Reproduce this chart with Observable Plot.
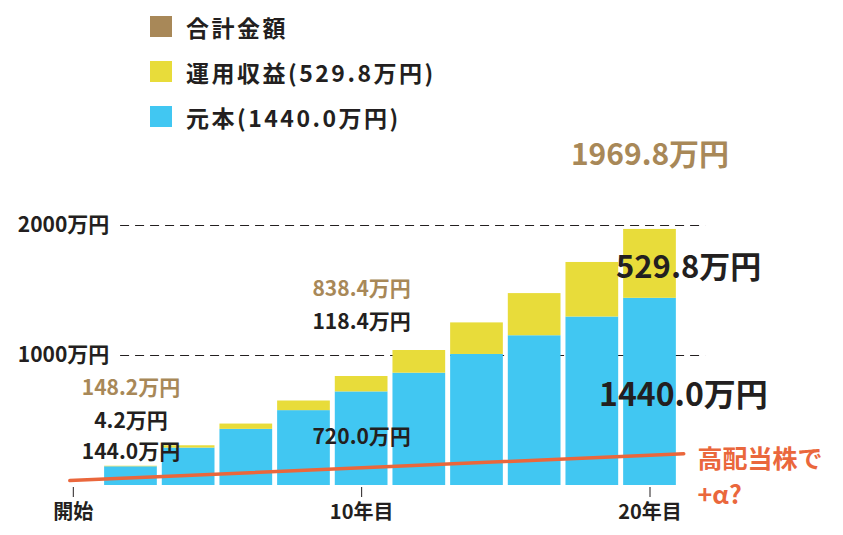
<!DOCTYPE html>
<html><head><meta charset="utf-8">
<script src="https://cdn.jsdelivr.net/npm/d3@7"></script>
<script src="https://cdn.jsdelivr.net/npm/@observablehq/plot@0.6"></script>
<style>
html,body{margin:0;padding:0;background:#fff;}
#wrap{position:relative;width:843px;height:535px;font-family:"Noto Sans CJK JP",sans-serif;}
#legend{position:absolute;left:150px;top:4px;}
.li{display:flex;align-items:center;height:45px;font-size:23px;font-weight:bold;color:#231f20;letter-spacing:2.5px;}
.sw{width:22px;height:21px;margin-right:14px;}
#chart{position:absolute;left:0;top:0;}
</style></head>
<body><div id="wrap"><div id="chart"></div><div id="legend"></div></div>
<script>
const years = [2,4,6,8,10,12,14,16,18,20];
const principal = [144,288,432,576,720,864,1008,1152,1296,1440];
const returns = [4.2,17.6,40.7,74.0,118.4,174.4,242.8,332.2,419.6,529.8];
const totals = [148.2,305.6,472.7,650.0,838.4,1038.4,1250.8,1476.2,1715.6,1969.8];
const legendNames = ["合計金額","運用収益(529.8万円)","元本(1440.0万円)"];
const yTicks = [1000,2000];
const yTickLabels = ["1000万円","2000万円"];
const xTicks = [0,10,20];
const xTickLabels = ["開始","10年目","20年目"];
const lineYears = [-0.12, 21.17];
const lineValues = [38, 244];

const colors = {total:"#a88858", ret:"#e8dc3a", prin:"#41c7f2", orange:"#ea673c", ink:"#231f20"};

const lg = document.getElementById("legend");
[colors.total, colors.ret, colors.prin].forEach((c,i)=>{
  const d = document.createElement("div"); d.className="li";
  d.innerHTML = `<span class="sw" style="background:${c}"></span><span>${legendNames[i]}</span>`;
  lg.appendChild(d);
});

const rows = years.map((y,i)=>({year:y, p:principal[i], r:returns[i], t:totals[i]}));
const hw = 0.914;
const font = `"Noto Sans CJK JP",sans-serif`;

const anno = [
  {x:2, y:746, text:"148.2万円", c:colors.total, s:21, a:"middle"},
  {x:2, y:492, text:"4.2万円", c:colors.ink, s:21, a:"middle"},
  {x:2, y:254, text:"144.0万円", c:colors.ink, s:21, a:"middle"},
  {x:10, y:1508, text:"838.4万円", c:colors.total, s:21, a:"middle"},
  {x:10, y:1254, text:"118.4万円", c:colors.ink, s:21, a:"middle"},
  {x:10, y:369, text:"720.0万円", c:colors.ink, s:21, a:"middle"},
  {x:20, y:2538, text:"1969.8万円", c:colors.total, s:30, a:"middle"},
  {x:21.34, y:1669, text:"529.8万円", c:colors.ink, s:31, a:"middle"},
  {x:21.16, y:692, text:"1440.0万円", c:colors.ink, s:32, a:"middle"}
];
const note = "高配当株で\n+α?";

const chart = Plot.plot({
  width:843, height:535,
  marginTop:225, marginBottom:50, marginLeft:72.8, marginRight:193.5,
  style:{fontFamily:font, background:"transparent", overflow:"visible"},
  x:{domain:[0,20], range:[72.8,649.5], axis:null},
  y:{domain:[0,2000], range:[485,225], axis:null},
  marks:[
    Plot.ruleY(yTicks, {y:d=>d, x1:1.64, x2:21.93, stroke:colors.ink, strokeWidth:1, strokeDasharray:"9,6"}),
    Plot.text(yTicks, {x:0, y:d=>d, text:(d,i)=>yTickLabels[i], textAnchor:"end", dx:36, fontSize:21, fontWeight:"bold", fill:colors.ink}),
    Plot.rect(rows, {x1:d=>d.year-hw, x2:d=>d.year+hw, y1:0, y2:"p", fill:colors.prin}),
    Plot.rect(rows, {x1:d=>d.year-hw, x2:d=>d.year+hw, y1:"p", y2:"t", fill:colors.ret}),
    Plot.line(lineYears.map((x,i)=>({x, y:lineValues[i]})), {x:"x", y:"y", stroke:colors.orange, strokeWidth:3.5}),
    Plot.axisX(xTicks, {tickFormat:d=>xTickLabels[xTicks.indexOf(d)], tickSize:10, tickPadding:7, dy:2, fontSize:20, fontWeight:"bold", stroke:colors.ink, fill:colors.ink, label:null}),
    ...anno.map(a=>Plot.text([a], {x:"x", y:"y", text:"text", fill:a.c, fontSize:a.s, fontWeight:"bold", textAnchor:a.a})),
    Plot.text([note], {x:21.65, y:85, text:d=>d, fill:colors.orange, fontSize:25, fontWeight:"bold", textAnchor:"start", lineAnchor:"middle", lineHeight:1.46})
  ]
});
document.getElementById("chart").appendChild(chart);
</script>
</body></html>
